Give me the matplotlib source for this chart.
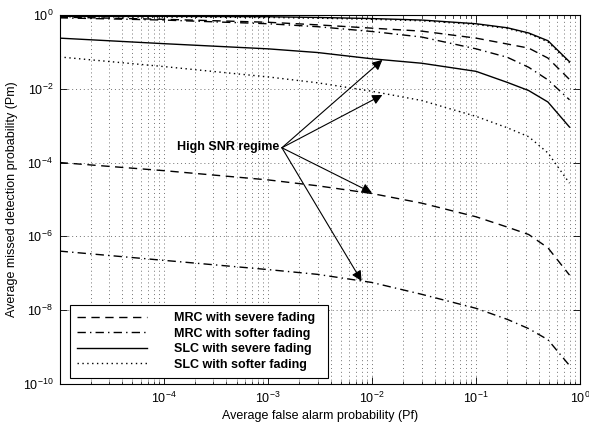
import numpy as np
import matplotlib
matplotlib.use('Agg')
import matplotlib.pyplot as plt
from matplotlib.ticker import LogLocator, NullFormatter, NullLocator

plt.rcParams['font.family'] = ['Liberation Sans', 'DejaVu Sans']
plt.rcParams['mathtext.default'] = 'regular'

# false alarm probability (x) points
pf = [1e-5, 1e-4, 1e-3, 3e-3, 1e-2, 3e-2, 0.1, 0.2, 0.32, 0.49, 0.79]

# low SNR group (log10 of Pm)
mrc_severe_low = [-0.06, -0.12, -0.20, -0.27, -0.36, -0.44, -0.63, -0.79, -0.90, -1.17, -1.75]
mrc_softer_low = [-0.08, -0.14, -0.24, -0.32, -0.45, -0.60, -0.92, -1.15, -1.42, -1.76, -2.30]
slc_severe_low = [-0.04, -0.04, -0.05, -0.07, -0.10, -0.14, -0.24, -0.35, -0.49, -0.70, -1.27]
slc_softer_low = [-0.05, -0.06, -0.07, -0.09, -0.12, -0.16, -0.26, -0.37, -0.51, -0.73, -1.30]

# high SNR group (log10 of Pm)
mrc_severe_high = [-4.00, -4.22, -4.47, -4.63, -4.84, -5.10, -5.47, -5.75, -5.95, -6.31, -7.05]
mrc_softer_high = [-6.40, -6.65, -6.90, -7.03, -7.25, -7.57, -7.95, -8.25, -8.50, -8.80, -9.50]
slc_severe_high = [-0.63, -0.78, -0.92, -1.02, -1.19, -1.31, -1.53, -1.83, -2.05, -2.36, -3.04]
slc_softer_high = [-1.14, -1.40, -1.68, -1.84, -2.07, -2.32, -2.75, -3.06, -3.30, -3.74, -4.56]

labels = ['MRC with severe fading', 'MRC with softer fading',
          'SLC with severe fading', 'SLC with softer fading']

# arrow tips (Pf, Pm) and text anchor
arrow_tips = [(10**-1.90, 10**-1.22), (10**-1.90, 10**-2.17),
              (10**-2.00, 10**-4.82), (10**-2.10, 10**-7.21)]
arrow_start = (10**-2.865, 10**-3.6)

fig = plt.figure(figsize=(5.89, 4.25), dpi=100)
ax = fig.add_axes([0.102, 0.0965, 0.883, 0.8685])

pf = np.array(pf)
dash = (0, (6, 4))
dashdot = (0, (6, 3, 1, 3))
dot = (0, (1, 2.5))
lw = 1.0

l1, = ax.plot(pf, 10**np.array(mrc_severe_high), color='k', lw=lw, linestyle=dash)
l2, = ax.plot(pf, 10**np.array(mrc_softer_high), color='k', lw=lw, linestyle=dashdot)
l3, = ax.plot(pf, 10**np.array(slc_severe_high), color='k', lw=lw, linestyle='-')
l4, = ax.plot(pf, 10**np.array(slc_softer_high), color='k', lw=lw, linestyle=dot)
ax.plot(pf, 10**np.array(mrc_severe_low), color='k', lw=lw, linestyle=dash)
ax.plot(pf, 10**np.array(mrc_softer_low), color='k', lw=lw, linestyle=dashdot)
ax.plot(pf, 10**np.array(slc_severe_low), color='k', lw=lw, linestyle='-')
ax.plot(pf, 10**np.array(slc_softer_low), color='k', lw=lw, linestyle=dot)

ax.set_xscale('log')
ax.set_yscale('log')
ax.set_xlim(1e-5 * 1.01, 1)
ax.set_ylim(1e-10, 1)

ax.set_xticks([1e-4, 1e-3, 1e-2, 1e-1, 1])
ax.xaxis.set_minor_locator(LogLocator(base=10, subs=np.arange(2, 10), numticks=20))
ax.xaxis.set_minor_formatter(NullFormatter())
ax.yaxis.set_major_locator(LogLocator(base=100, numticks=10))
ax.yaxis.set_minor_locator(NullLocator())

ax.tick_params(which='both', direction='in', top=True, right=True, labelsize=9)
ax.tick_params(which='major', length=5, width=0.6, pad=5)
ax.tick_params(which='minor', length=2.5, width=0.5)
ax.grid(True, which='major', linestyle=(0, (1, 3)), color='0.45', lw=0.7)
ax.grid(True, which='minor', axis='x', linestyle=(0, (1, 3)), color='0.45', lw=0.7)
for s in ax.spines.values():
    s.set_linewidth(0.8)

ax.set_xlabel('Average false alarm probability (Pf)', fontsize=9, labelpad=3)
ax.set_ylabel('Average missed detection probability (Pm)', fontsize=9, labelpad=3)

ax.text(10**-2.89, 10**-3.58, 'High SNR regime', fontsize=9, fontweight='bold',
        ha='right', va='center')
for tip in arrow_tips:
    ax.annotate('', xy=tip, xytext=arrow_start,
                arrowprops=dict(arrowstyle='-|>', color='k', lw=0.8,
                                mutation_scale=15, shrinkA=0, shrinkB=0))

leg = ax.legend([l1, l2, l3, l4], labels, loc='lower left', mode='expand',
                bbox_to_anchor=(0.019, 0.016, 0.496, 0.195), borderaxespad=0,
                prop={'weight': 'bold', 'size': 9},
                handlelength=5.6, handletextpad=2.1, borderpad=0.6,
                labelspacing=0.28, fancybox=False, edgecolor='k', framealpha=1)
leg.get_frame().set_linewidth(0.8)

plt.savefig('out.png', dpi=100)
plt.close()
